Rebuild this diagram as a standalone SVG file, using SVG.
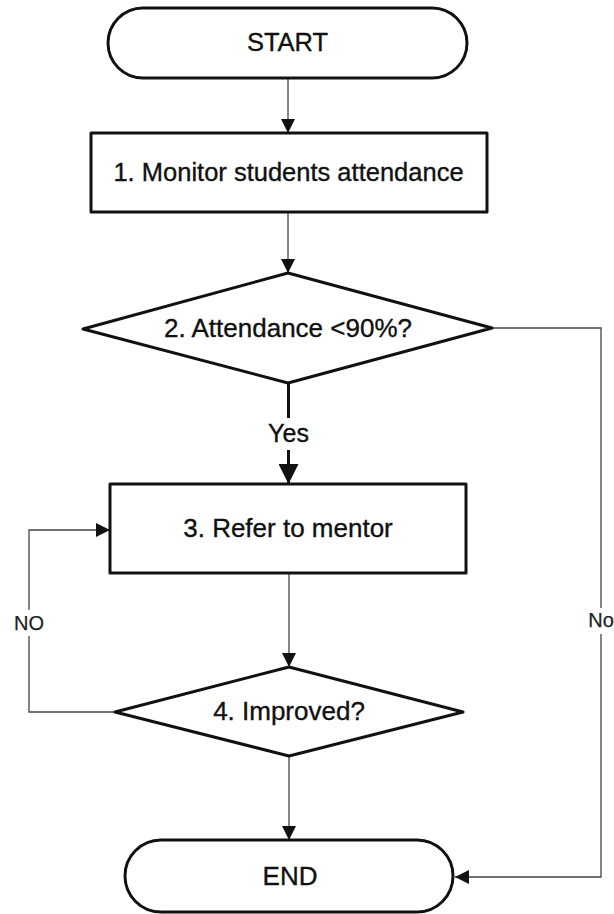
<svg xmlns="http://www.w3.org/2000/svg" width="614" height="914" viewBox="0 0 614 914">
  <style>
    .shape { fill: #ffffff; stroke: #111111; stroke-width: 3; stroke-linejoin: round; }
    .label { font-family: "Liberation Sans", Arial, sans-serif; fill: #111111; stroke: #111111; stroke-width: 0.35; text-anchor: middle; }
    .conn { fill: none; stroke: #444444; stroke-width: 1.3; }
    .thick { fill: none; stroke: #111111; stroke-width: 3; }
    .small { font-family: "Liberation Sans", Arial, sans-serif; fill: #222222; stroke: #222222; stroke-width: 0.25; text-anchor: middle; font-size: 20px; }
  </style>
  <defs>
    <marker id="arr" markerUnits="userSpaceOnUse" markerWidth="14" markerHeight="14" refX="14" refY="7" orient="auto">
      <path d="M0,0 L14,7 L0,14 Z" fill="#111111"/>
    </marker>
    <marker id="arrBig" markerUnits="userSpaceOnUse" markerWidth="20" markerHeight="20" refX="20" refY="10" orient="auto">
      <path d="M0,0 L20,10 L0,20 Z" fill="#111111"/>
    </marker>
  </defs>

  <rect width="614" height="914" fill="#ffffff"/>

  <g id="connectors">
    <line class="conn" x1="288" y1="78" x2="288" y2="133" marker-end="url(#arr)"/>
    <line class="conn" x1="288" y1="212" x2="288" y2="273" marker-end="url(#arr)"/>
    <line class="thick" x1="288.5" y1="383" x2="288.5" y2="418"/>
    <line class="thick" x1="288.5" y1="450" x2="288.5" y2="484" marker-end="url(#arrBig)"/>
    <line class="conn" x1="289" y1="573" x2="289" y2="667" marker-end="url(#arr)"/>
    <line class="conn" x1="289" y1="756" x2="289" y2="840" marker-end="url(#arr)"/>
    <polyline class="conn" points="115,712 29,712 29,530 110,530" marker-end="url(#arr)"/>
    <polyline class="conn" points="492,328 601,328 601,877 455,877" marker-end="url(#arr)"/>
    <rect x="12" y="610" width="34" height="26" fill="#ffffff"/>
    <text class="small" x="29" y="630">NO</text>
    <rect x="586" y="608" width="28" height="26" fill="#ffffff"/>
    <text class="small" x="601" y="627">No</text>
    <text class="label" x="288.5" y="442" font-size="25">Yes</text>
  </g>

  <g id="start">
    <rect class="shape" x="108" y="8" width="359" height="70" rx="35" ry="35"/>
    <text class="label" x="287.5" y="51" font-size="25.5">START</text>
  </g>

  <g id="step1">
    <rect class="shape" x="91" y="133" width="396" height="79"/>
    <text class="label" x="288.5" y="181" font-size="25.5">1. Monitor students attendance</text>
  </g>

  <g id="decision2">
    <polygon class="shape" points="288,273 492,328 288,383 83,329"/>
    <text class="label" x="288" y="337" font-size="26">2. Attendance &lt;90%?</text>
  </g>

  <g id="step3">
    <rect class="shape" x="110" y="484" width="356" height="89"/>
    <text class="label" x="288" y="537" font-size="26">3. Refer to mentor</text>
  </g>

  <g id="decision4">
    <polygon class="shape" points="289,667 463,712 289,756 115,712"/>
    <text class="label" x="289" y="720" font-size="26">4. Improved?</text>
  </g>

  <g id="end">
    <rect class="shape" x="125" y="840" width="328" height="72" rx="36" ry="36"/>
    <text class="label" x="290" y="885" font-size="26">END</text>
  </g>
</svg>
